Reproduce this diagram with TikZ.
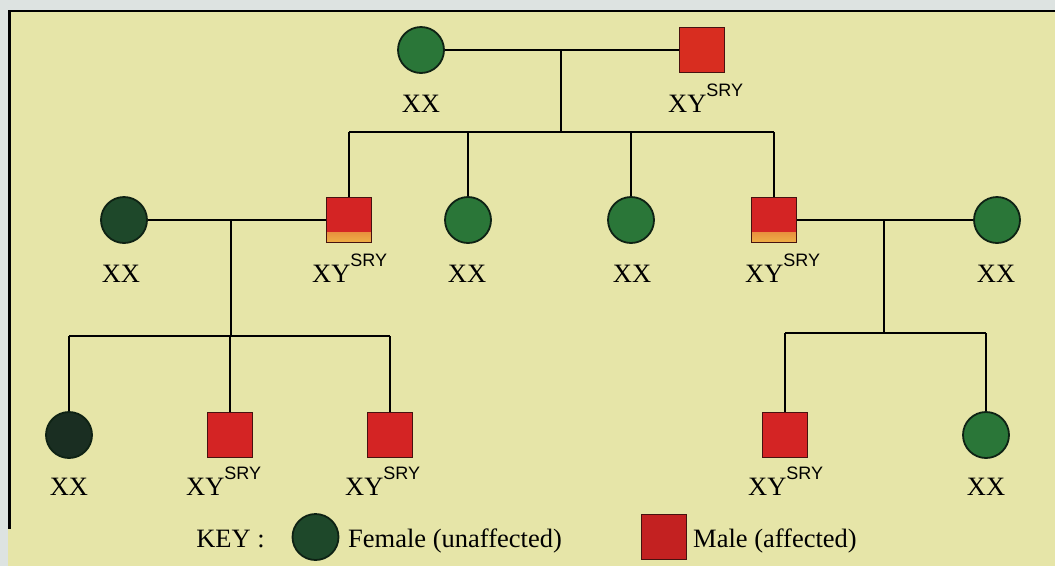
\documentclass[tikz,border=0pt]{standalone}
\usepackage{fontspec}
\setmainfont{Liberation Serif}
\newfontfamily\sryfont{Liberation Sans}
\definecolor{bgc}{RGB}{230,229,168}
\definecolor{pagec}{RGB}{221,227,225}
\definecolor{femfill}{RGB}{42,118,56}
\definecolor{femdark}{RGB}{30,72,42}
\definecolor{femblack}{RGB}{26,46,34}
\definecolor{femline}{RGB}{14,34,20}
\definecolor{malfill}{RGB}{212,36,36}
\definecolor{malline}{RGB}{70,18,16}
\definecolor{orangeb}{RGB}{238,176,70}
\newcommand{\xysry}{XY\raisebox{16pt}{\fontsize{18}{18}\sryfont SRY}}
\begin{document}
\begin{tikzpicture}[x=1pt,y=-1pt,
  fem/.style={circle,draw=femline,fill=femfill,line width=1.8pt,minimum size=46pt,inner sep=0pt},
  mal/.style={rectangle,draw=malline,fill=malfill,line width=1.8pt,minimum size=45pt,inner sep=0pt},
  burnt/.style={path picture={\shade[top color=malfill,bottom color=orangeb]
      ([yshift=10pt]path picture bounding box.south west) rectangle (path picture bounding box.south east);}},
  lbl/.style={font=\fontsize{26.5}{26.5}\selectfont,inner sep=0pt,anchor=base},
  lblw/.style={font=\fontsize{26.5}{26.5}\selectfont,inner sep=0pt,anchor=base west},
  link/.style={line width=1.8pt,black}]
\useasboundingbox (0,0) rectangle (1055,566);
\fill[bgc] (0,0) rectangle (1055,566);
\fill[pagec] (0,0) rectangle (1055,10);
\fill[pagec] (0,0) rectangle (8,566);
\draw[line width=2.8pt,black] (8,11) -- (1055,11);
\draw[line width=2.8pt,black] (9.5,11) -- (9.5,529);

% generation 1
\node[fem] (g1f) at (421,50) {};
\node[mal,fill=malfill!90!orange] (g1m) at (702,50) {};
\node[lbl] (l1f) at (421,112) {XX};
\node[lblw] (l1m) at (668,112) {\xysry};

% generation 2
\node[fem,fill=femdark] (g2w) at (124,220) {};
\node[mal,burnt] (g2a) at (349,220) {};
\node[fem] (g2b) at (468,220) {};
\node[fem] (g2c) at (631,220) {};
\node[mal,burnt] (g2d) at (774,220) {};
\node[fem] (g2h) at (997,220) {};
\node[lbl] (l2w) at (121,282) {XX};
\node[lblw] (l2a) at (312,282) {\xysry};
\node[lbl] (l2b) at (467,282) {XX};
\node[lbl] (l2c) at (632,282) {XX};
\node[lblw] (l2d) at (745,282) {\xysry};
\node[lbl] (l2h) at (996,282) {XX};

% generation 3
\node[fem,fill=femblack] (g3a) at (69,435) {};
\node[mal] (g3b) at (230,435) {};
\node[mal] (g3c) at (390,435) {};
\node[mal] (g3d) at (785,435) {};
\node[fem] (g3e) at (986,435) {};
\node[lbl] (l3a) at (69,495) {XX};
\node[lblw] (l3b) at (186,495) {\xysry};
\node[lblw] (l3c) at (345,495) {\xysry};
\node[lblw] (l3d) at (748,495) {\xysry};
\node[lbl] (l3e) at (986,495) {XX};

% connectors
\coordinate (m1) at (561,50);
\coordinate (s1) at (561,132);
\draw[link] (g1f) -- (g1m);
\draw[link] (m1) -- (s1);
\draw[link] (g2a.north |- s1) -- (g2d.north |- s1);
\foreach \c in {g2a,g2b,g2c,g2d} \draw[link] (\c.north |- s1) -- (\c.north);

\coordinate (m2) at (231,220);
\coordinate (s2) at (231,336);
\draw[link] (g2w) -- (g2a);
\draw[link] (m2) -- (s2);
\draw[link] (g3a.north |- s2) -- (g3c.north |- s2);
\foreach \c in {g3a,g3b,g3c} \draw[link] (\c.north |- s2) -- (\c.north);

\coordinate (m3) at (884,220);
\coordinate (s3) at (884,333);
\draw[link] (g2d) -- (g2h);
\draw[link] (m3) -- (s3);
\draw[link] (g3d.north |- s3) -- (g3e.north |- s3);
\foreach \c in {g3d,g3e} \draw[link] (\c.north |- s3) -- (\c.north);

% key
\node[font=\fontsize{26.5}{26.5}\selectfont,inner sep=0pt,anchor=base east] (key) at (265,547) {KEY :};
\node[fem,fill=femdark] (kf) at (315.5,537) {};
\node[lblw] (kft) at (348,547) {Female (unaffected)};
\node[mal,fill=malfill!92!black] (km) at (664,537) {};
\node[lblw] (kmt) at (693,547) {Male (affected)};
\end{tikzpicture}
\end{document}
